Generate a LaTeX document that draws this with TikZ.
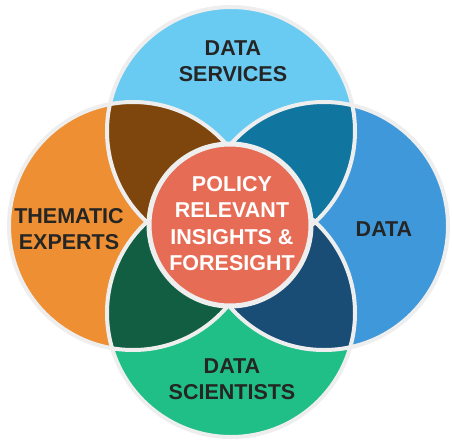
\documentclass[tikz,border=0pt]{standalone}
\usepackage{fontspec}
\setmainfont{Liberation Sans}
\begin{document}
\definecolor{cTop}{HTML}{6ACBF2}
\definecolor{cLeft}{HTML}{EE8F33}
\definecolor{cRight}{HTML}{3E98DA}
\definecolor{cBottom}{HTML}{20BF88}
\definecolor{cTL}{HTML}{7E460C}
\definecolor{cTR}{HTML}{11769F}
\definecolor{cBL}{HTML}{115E43}
\definecolor{cBR}{HTML}{1A4D76}
\definecolor{cCore}{HTML}{E76C56}
\definecolor{cRim}{HTML}{EEEEEE}
\definecolor{cInk}{HTML}{252525}
\begin{tikzpicture}[x=1pt,y=-1pt,
  rim/.style={draw=cRim,line width=4pt},
  label/.style={align=center,font=\fontsize{21.5}{26.3}\selectfont\bfseries,text=cInk,inner sep=0pt},
  corelabel/.style={label,text=white}]
\useasboundingbox (0,0) rectangle (452,447);
\def\R{124}
% circle centres
\coordinate (T) at (231,131);
\coordinate (B) at (231,313);
\coordinate (L) at (133,226);
\coordinate (Rt) at (324,226);
\coordinate (C) at (230,225);
% base circles
\fill[cTop] (T) circle (\R);
\fill[cBottom] (B) circle (\R);
\fill[cLeft] (L) circle (\R);
\fill[cRight] (Rt) circle (\R);
% pairwise overlaps
\begin{scope}\clip (T) circle (\R); \fill[cTL] (L) circle (\R); \end{scope}
\begin{scope}\clip (T) circle (\R); \fill[cTR] (Rt) circle (\R); \end{scope}
\begin{scope}\clip (B) circle (\R); \fill[cBL] (L) circle (\R); \end{scope}
\begin{scope}\clip (B) circle (\R); \fill[cBR] (Rt) circle (\R); \end{scope}
% rims
\draw[rim] (T) circle (\R);
\draw[rim] (B) circle (\R);
\draw[rim] (L) circle (\R);
\draw[rim] (Rt) circle (\R);
% centre disc
\node[circle,fill=cCore,draw=cRim,line width=5pt,minimum size=162pt,inner sep=0pt] (core) at (C) {};
% labels
\node[label] (services) at (233,61) {DATA\\SERVICES};
\node[label] (experts) at (69,229) {THEMATIC\\EXPERTS};
\node[label] (data) at (384,229) {DATA};
\node[label] (scientists) at (232,379.5) {DATA\\SCIENTISTS};
\node[corelabel] (insights) at (232,223.5) {POLICY\\RELEVANT\\INSIGHTS \&\\FORESIGHT};
\end{tikzpicture}
\end{document}
